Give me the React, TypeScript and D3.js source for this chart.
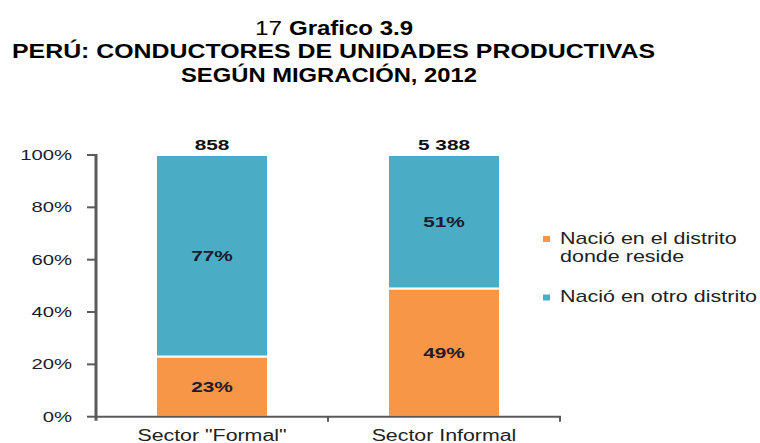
import React from 'react';
import * as d3 from 'd3';

// datos del grafico
const categories = ['Sector "Formal"', 'Sector Informal'];
const nacioDistrito = [23, 49];
const nacioOtro = [77, 51];
const totals = ['858', '5 388'];
const yTicks = [0, 20, 40, 60, 80, 100];
const seriesNames = ['Nació en el distrito donde reside', 'Nació en otro distrito'];
const legendLines = [['Nació en el distrito', 'donde reside'], ['Nació en otro distrito']];

const W = 760;
const H = 443;
const SX = 1.37; // texto estirado horizontalmente como en el original
const FONT = '"Liberation Sans", Arial, sans-serif';
const AXIS = '#5a5a5a';
const colors = ['#f79646', '#4bacc6'];

const ST = ({ x, y, size, bold = false, fill = '#1c1c2e', anchor = 'middle', children }: any) => (
  <text
    transform={`translate(${x},${y}) scale(${SX},1)`}
    textAnchor={anchor}
    fontFamily={FONT}
    fontSize={size}
    fontWeight={bold ? 'bold' : 'normal'}
    fill={fill}
  >
    {children}
  </text>
);

export default function App() {
  const rows = categories.map((c, i) => ({ cat: c, a: nacioDistrito[i], b: nacioOtro[i] }));
  const stack = d3.stack<any>().keys(['a', 'b'])(rows);

  const x = d3.scaleBand().domain(categories).range([96, 560]).paddingInner(0.517).paddingOuter(0.2585);
  const y = d3.scaleLinear().domain([0, 100]).range([416.7, 155]);

  return (
    <svg width={W} height={H} style={{ position: 'absolute', left: 0, top: 0, background: '#fff' }}>
      {/* titulo */}
      <g fontFamily={FONT} fill="#000" fontSize={21}>
        <text x={255} y={35} textLength={27} lengthAdjust="spacingAndGlyphs">17</text>
        <text x={289} y={35} fontWeight="bold" textLength={124} lengthAdjust="spacingAndGlyphs">
          Grafico 3.9
        </text>
        <text x={12} y={58} fontWeight="bold" textLength={643} lengthAdjust="spacingAndGlyphs">
          PERÚ: CONDUCTORES DE UNIDADES PRODUCTIVAS
        </text>
        <text x={181} y={81.5} fontWeight="bold" textLength={296} lengthAdjust="spacingAndGlyphs">
          SEGÚN MIGRACIÓN, 2012
        </text>
      </g>

      {/* barras */}
      {stack.map((s, si) =>
        s.map((d: any, i) => (
          <rect
            key={`${si}-${i}`}
            x={x(categories[i])}
            y={y(d[1])}
            width={x.bandwidth()}
            height={y(d[0]) - y(d[1])}
            fill={colors[si]}
            stroke="#fff"
            strokeWidth={2}
          />
        ))
      )}

      {/* etiquetas dentro de las barras */}
      {stack.map((s, si) =>
        s.map((d: any, i) => (
          <ST key={`l${si}-${i}`} x={x(categories[i])! + x.bandwidth() / 2} y={(y(d[0]) + y(d[1])) / 2 + 5.5} size={15.2} bold>
            {`${d[1] - d[0]}%`}
          </ST>
        ))
      )}

      {/* totales */}
      {categories.map((c, i) => (
        <ST key={`t${i}`} x={x(c)! + x.bandwidth() / 2} y={150} size={15.2} bold fill="#111">
          {totals[i]}
        </ST>
      ))}

      {/* eje y */}
      <line x1={96} x2={96} y1={y(100) - 1} y2={y(0) + 4} stroke={AXIS} strokeWidth={3} />
      {yTicks.map(t => (
        <g key={t}>
          <line x1={87} x2={96} y1={y(t)} y2={y(t)} stroke={AXIS} strokeWidth={2} />
          <ST x={72} y={y(t) + 5} size={14.8} anchor="end">{`${t}%`}</ST>
        </g>
      ))}

      {/* eje x */}
      <line x1={95} x2={561} y1={y(0)} y2={y(0)} stroke={AXIS} strokeWidth={2} />
      {[x.range()[0] + x.step(), x.range()[1]].map((v, i) => (
        <line key={i} x1={v} x2={v} y1={y(0)} y2={y(0) + 5} stroke={AXIS} strokeWidth={2} />
      ))}
      {categories.map(c => (
        <ST key={c} x={x(c)! + x.bandwidth() / 2} y={441} size={15.6} fill="#222">
          {c}
        </ST>
      ))}

      {/* leyenda */}
      {seriesNames.map((n, i) => {
        const top = i === 0 ? 243.5 : 302;
        return (
          <g key={n}>
            <rect x={543} y={top - 7.5} width={7} height={6} fill={colors[i]} />
            {legendLines[i].map((ln, j) => (
              <ST key={j} x={560} y={top + j * 18} size={15.7} anchor="start" fill="#222">
                {ln}
              </ST>
            ))}
          </g>
        );
      })}
    </svg>
  );
}
